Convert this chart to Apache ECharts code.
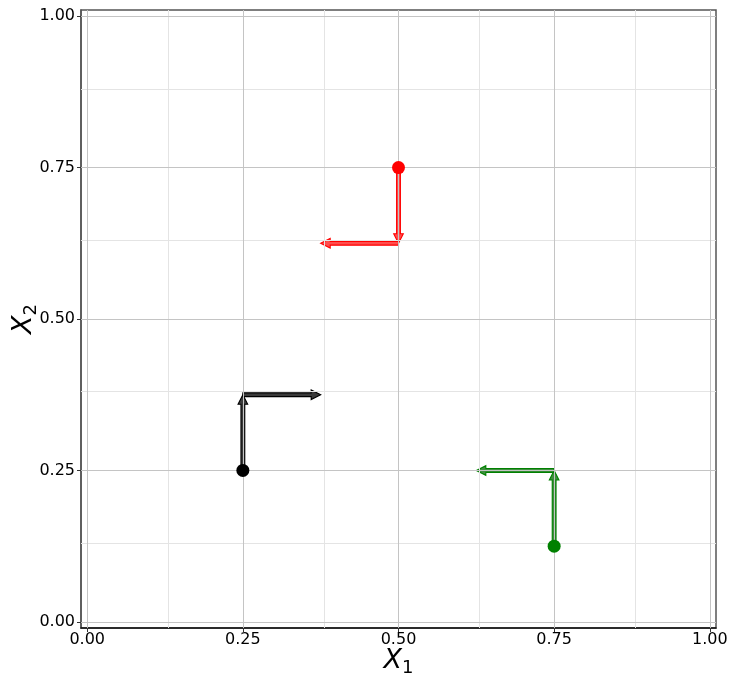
<!DOCTYPE html>
<html>
<head>
<meta charset="utf-8">
<script src="https://cdn.jsdelivr.net/npm/echarts@6/dist/echarts.min.js"></script>
<style>
  html, body { margin: 0; padding: 0; background: #ffffff; }
  #chart { width: 731px; height: 675px; }
</style>
</head>
<body>
<div id="chart"></div>
<script>
// Starting points of each two-step path
const startX = [0.25, 0.50, 0.75];
const startY = [0.25, 0.75, 0.125];
// First step (vertical) and second step (horizontal)
const stepY = [0.125, -0.125, 0.125];
const stepX = [0.125, -0.125, -0.125];
const pathColors = ['#000000', '#ff0000', '#008000'];
const innerColors = ['#3a3a3a', '#ff4d4d', '#3f8f3f'];

// Tick and grid positions
const majorTicks = [0, 0.25, 0.5, 0.75, 1];
const minorTicks = [0.125, 0.375, 0.625, 0.875];
const axisMin = -0.01;
const axisMax = 1.01;

const chart = echarts.init(document.getElementById('chart'), null, { renderer: 'canvas' });

const font = 'DejaVu Sans';

function gridLines(values, color) {
  const data = [];
  values.forEach(v => {
    data.push({ xAxis: v });
    data.push({ yAxis: v });
  });
  return {
    type: 'line',
    data: [],
    silent: true,
    z: 1,
    markLine: {
      silent: true,
      symbol: 'none',
      label: { show: false },
      animation: false,
      lineStyle: { color: color, width: 1, type: 'solid' },
      data: data
    }
  };
}

// Arrow segments: [x0, y0, x1, y1, pathIndex]
const segments = [];
for (let i = 0; i < startX.length; i++) {
  const midY = startY[i] + stepY[i];
  const endX = startX[i] + stepX[i];
  segments.push([startX[i], startY[i], startX[i], midY, i]);
  segments.push([startX[i], midY, endX, midY, i]);
}

const pointData = startX.map((x, i) => ({
  value: [x, startY[i]],
  itemStyle: { color: pathColors[i], opacity: 1 }
}));

// Draws one arrow: shaft with darker edge + lighter core, and a filled head
function renderArrow(params, api) {
  const p0 = api.coord([api.value(0), api.value(1)]);
  const p1 = api.coord([api.value(2), api.value(3)]);
  const idx = api.value(4);
  const dx = p1[0] - p0[0], dy = p1[1] - p0[1];
  const len = Math.sqrt(dx * dx + dy * dy);
  const ux = dx / len, uy = dy / len;
  const nx = -uy, ny = ux;
  const headLen = 9.5, headHalf = 4.8, shaftHalf = 1.9;
  const bx = p1[0] - ux * headLen, by = p1[1] - uy * headLen;
  const pts = [
    [p0[0] + nx * shaftHalf, p0[1] + ny * shaftHalf],
    [bx + nx * shaftHalf, by + ny * shaftHalf],
    [bx + nx * headHalf, by + ny * headHalf],
    [p1[0], p1[1]],
    [bx - nx * headHalf, by - ny * headHalf],
    [bx - nx * shaftHalf, by - ny * shaftHalf],
    [p0[0] - nx * shaftHalf, p0[1] - ny * shaftHalf]
  ];
  return {
    type: 'polygon',
    shape: { points: pts },
    style: {
      fill: innerColors[idx],
      stroke: pathColors[idx],
      lineWidth: 1.1,
      lineJoin: 'miter'
    }
  };
}

const axisCommon = {
  type: 'value',
  min: axisMin,
  max: axisMax,
  splitLine: { show: false },
  axisLine: { show: true, onZero: false, lineStyle: { color: '#555555', width: 1.5 } },
  axisTick: { show: true, customValues: majorTicks, length: 4, lineStyle: { color: '#333333' } },
  axisLabel: {
    customValues: majorTicks,
    formatter: v => v.toFixed(2),
    fontFamily: font,
    fontSize: 16,
    color: '#000000'
  },
  nameLocation: 'middle',
  nameMoveOverlap: false
};

const nameRich = {
  x: { fontFamily: font, fontStyle: 'italic', fontSize: 27, color: '#000' },
  s: { fontFamily: font, fontSize: 18, color: '#000', padding: [14, 0, 0, 0] }
};

chart.setOption({
  animation: false,
  backgroundColor: '#ffffff',
  grid: {
    left: 81, right: 15, top: 10, bottom: 47,
    containLabel: false,
    outerBoundsMode: 'none',
    show: true, borderColor: '#555555', borderWidth: 1.5
  },
  xAxis: Object.assign({}, axisCommon, {
    axisLine: { show: true, onZero: false, lineStyle: { color: '#111111', width: 1.5 } },
    axisLabel: Object.assign({}, axisCommon.axisLabel, { margin: 4 }),
    name: '{x|X}{s|1}',
    nameGap: 17,
    nameTextStyle: { rich: nameRich }
  }),
  yAxis: Object.assign({}, axisCommon, {
    axisLabel: Object.assign({}, axisCommon.axisLabel, { margin: 6 }),
    name: '{x|X}{s|2}',
    nameGap: 41,
    nameRotate: 90,
    nameTextStyle: { rich: nameRich }
  }),
  series: [
    gridLines(minorTicks, '#e4e4e4'),
    gridLines(majorTicks, '#c4c4c4'),
    {
      type: 'custom',
      coordinateSystem: 'cartesian2d',
      z: 3,
      renderItem: renderArrow,
      encode: { x: [0, 2], y: [1, 3] },
      data: segments
    },
    {
      type: 'scatter',
      z: 5,
      symbol: 'circle',
      symbolSize: 13,
      itemStyle: { opacity: 1 },
      data: pointData
    }
  ]
});
</script>
</body>
</html>
